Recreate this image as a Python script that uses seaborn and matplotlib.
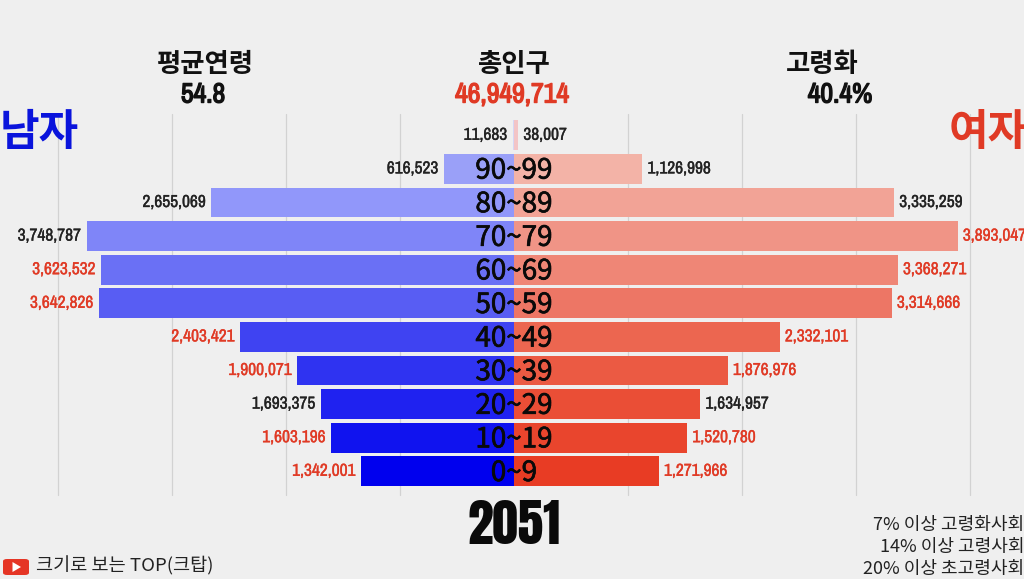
import matplotlib
matplotlib.use("Agg")
import matplotlib.pyplot as plt
import matplotlib.patheffects as pe
import seaborn as sns
import pandas as pd
from matplotlib.patches import FancyBboxPatch, Polygon

ages = ["100~", "90~99", "80~89", "70~79", "60~69", "50~59", "40~49", "30~39", "20~29", "10~19", "0~9"]
male = [11683, 616523, 2655069, 3748787, 3623532, 3642826, 2403421, 1900071, 1693375, 1603196, 1342001]
female = [38007, 1126998, 3335259, 3893047, 3368271, 3314666, 2332101, 1876976, 1634957, 1520780, 1271966]
male_colors = ["#d5d6f4", "#9aa0f8", "#9197fa", "#7f85f8", "#6a70f5", "#585df3", "#3f43f2", "#2f33f1", "#1f22f0", "#1013ef", "#0000ee"]
female_colors = ["#f3c4c6", "#f3b3a7", "#f2a396", "#f09486", "#ef8676", "#ed7665", "#ec6650", "#eb5a43", "#ea4e36", "#e9452d", "#e83c24"]
RED, BLACK = "#e03a25", "#222222"
male_label_colors = [BLACK, BLACK, BLACK, BLACK, RED, RED, RED, RED, BLACK, RED, RED]
female_label_colors = [BLACK, BLACK, BLACK, RED, RED, RED, RED, RED, BLACK, RED, RED]
grid_values = [-4e6, -3e6, -2e6, -1e6, 0, 1e6, 2e6, 3e6, 4e6]
year = "2051"
headers = ["평균연령", "총인구", "고령화"]
header_values = ["54.8", "46,949,714", "40.4%"]
notes = ["7% 이상 고령화사회", "14% 이상 고령사회", "20% 이상 초고령사회"]
channel = "크기로 보는 TOP(크탑)"

W, H = 1024, 579
BG = "#efefef"
KR = ["Noto Sans CJK KR", "DejaVu Sans"]
NARROW = ["Archivo Narrow", "Noto Sans CJK KR", "DejaVu Sans"]
HEAVY = ["Anton", "Archivo Narrow", "Noto Sans CJK KR", "DejaVu Sans"]

def stroke(width, color):
    return [pe.withStroke(linewidth=width, foreground=color)]

sns.set_theme(style="white")
plt.rcParams["font.family"] = KR

fig = plt.figure(figsize=(W / 100, H / 100), dpi=100, facecolor=BG)
ax = fig.add_axes([0, 0, 1, 1], facecolor=BG)

df = pd.DataFrame({"age": ages, "male": [-v for v in male], "female": female})
for col, pal in (("male", male_colors), ("female", female_colors)):
    sns.barplot(data=df, y="age", x=col, hue="age", palette=pal, order=ages,
                hue_order=ages, dodge=False, legend=False, width=0.89, ax=ax, zorder=3,
                linewidth=0, orient="h", saturation=1)

PX_PER_VALUE = 114 / 1e6
ax.set_xlim(-514 / PX_PER_VALUE, (W - 514) / PX_PER_VALUE)
ROW = 33.6
ax.set_ylim((H - 135.3) / ROW, -135.3 / ROW)
ax.set_axis_off()

# gridlines span y pixels 114..495
for g in grid_values:
    if g != 0:
        ax.plot([g, g], [(114 - 135) / ROW, (495 - 135) / ROW], color="#d2d2d2", lw=0.9, zorder=1)

OFF = 5 / PX_PER_VALUE
for i, age in enumerate(ages):
    ax.text(-male[i] - OFF, i, f"{male[i]:,}", ha="right", va="center", fontsize=12.5,
            family=NARROW, color=male_label_colors[i], zorder=5,
            path_effects=stroke(0.25, male_label_colors[i]))
    ax.text(female[i] + OFF, i, f"{female[i]:,}", ha="left", va="center", fontsize=12.5,
            family=NARROW, color=female_label_colors[i], zorder=5,
            path_effects=stroke(0.25, female_label_colors[i]))
    if i > 0:
        ax.text(0, i + 0.05, age, ha="center", va="center", fontsize=20, color="#0a0a0a",
                zorder=6, path_effects=stroke(0.5, "#0a0a0a"))

def t(x, y, s, **kw):
    fig.text(x / W, 1 - y / H, s, **kw)

hx = [205, 514, 822]
vx = [203, 512, 840]
vcol = ["#111111", RED, "#111111"]
for i in range(3):
    t(hx[i], 65, headers[i], ha="center", va="center", fontsize=19, fontweight="bold", color="#111111")
    t(vx[i], 95, header_values[i], ha="center", va="center", fontsize=20,
      family=NARROW, color=vcol[i], path_effects=stroke(1.0, vcol[i]))

t(0, 132, "남자", ha="left", va="center", fontsize=31, fontweight="bold", color="#0a14dc")
t(949, 132, "여자", ha="left", va="center", fontsize=31, fontweight="bold", color=RED)
t(514, 525, year, ha="center", va="center", fontsize=37, family=HEAVY, color="#0a0a0a")

for s, y in zip(notes, [525, 547, 569]):
    t(1024, y, s, ha="right", va="center", fontsize=13, color="#222222")
t(36, 566, channel, ha="left", va="center", fontsize=13.4, color="#222222")

ax.add_patch(FancyBboxPatch((3 / W, 1 - 575 / H), 26 / W, 16 / H, boxstyle="round,pad=0,rounding_size=0.004",
                            transform=fig.transFigure, fc="#e53525", ec="none", zorder=7, clip_on=False))
ax.add_patch(Polygon([(12.5 / W, 1 - 562 / H), (12.5 / W, 1 - 572 / H), (21 / W, 1 - 567 / H)],
                     transform=fig.transFigure, fc="white", ec="none", zorder=8, clip_on=False))

fig.savefig("out.png", dpi=100, facecolor=BG)
